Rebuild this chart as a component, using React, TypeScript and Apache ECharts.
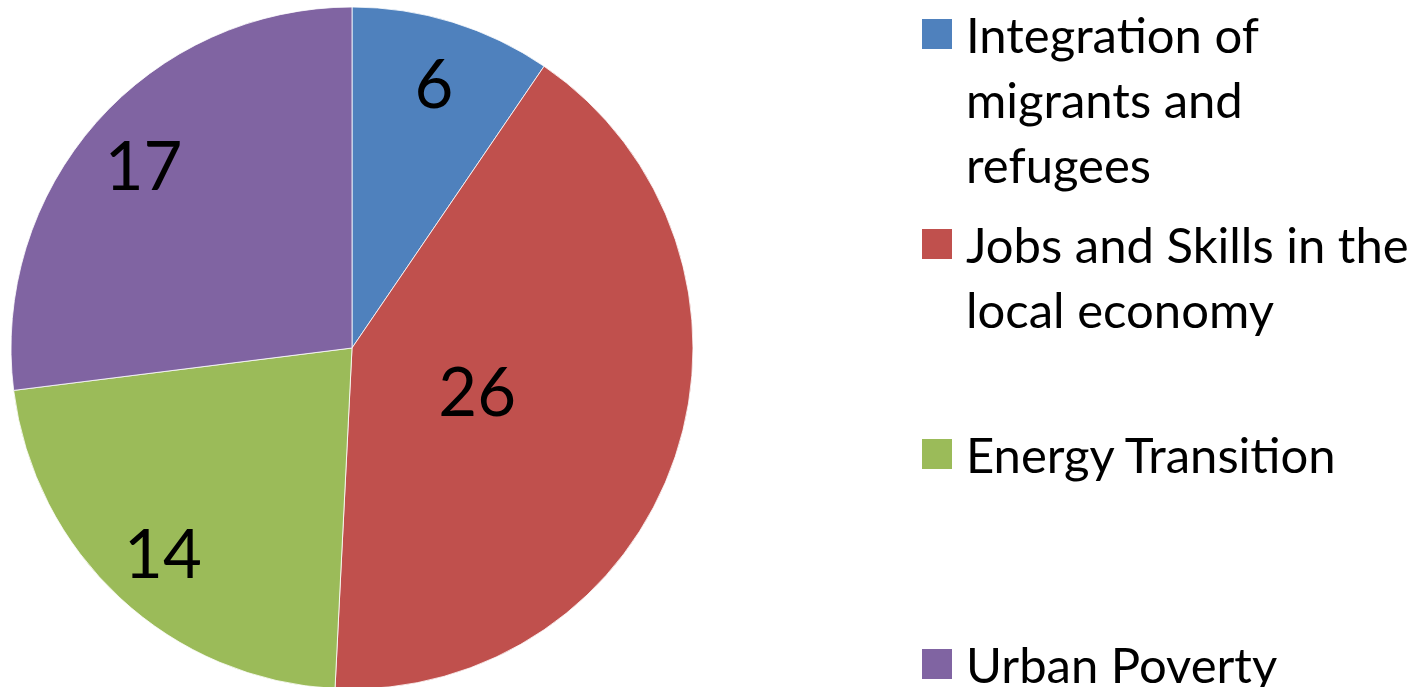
import React, { useEffect, useRef } from "react";
import * as echarts from "echarts";

const categories = [
  "Integration of migrants and refugees",
  "Jobs and Skills in the local economy",
  "Energy Transition",
  "Urban Poverty",
];
const values = [6, 26, 14, 17];
const colors = ["#4F81BD", "#C0504D", "#9BBB59", "#8064A2"];
const legendLines = [
  ["Integration of", "migrants and", "refugees"],
  ["Jobs and Skills in the", "local economy"],
  ["Energy Transition"],
  ["Urban Poverty"],
];
// which slices get their value label drawn on the outer ring vs. near the centre
const outerLabelIdx = [0, 2, 3];
const innerLabelIdx = [1];

const FONT = "Lato, 'Open Sans', sans-serif";
const LINE_H = 65;
const ICON = 30;
const legendIconTops = [19, 229, 439, 649];

export default function App() {
  const ref = useRef<HTMLDivElement>(null);
  useEffect(() => {
    if (!ref.current) return;
    const chart = echarts.init(ref.current, undefined, { renderer: "svg" });
    const cx = 352;
    const cy = 348;
    const R = 341;

    const overlay = (idx: number[], radius: [number, number]) => ({
      type: "pie",
      center: [cx, cy],
      radius,
      startAngle: 90,
      clockwise: true,
      silent: true,
      animation: false,
      emphasis: { disabled: true },
      labelLine: { show: false },
      itemStyle: { color: "rgba(0,0,0,0)", borderWidth: 0 },
      data: values.map((v, i) => ({
        name: categories[i],
        value: v,
        label: {
          show: idx.includes(i),
          position: "inside",
          formatter: "{c}",
          color: "#000",
          fontSize: 67,
          fontFamily: FONT,
        },
      })),
    });

    const legends = categories.map((name, i) => {
      const n = legendLines[i].length;
      const half = ((2 * n - 1) * LINE_H) / 2;
      return {
        orient: "vertical",
        left: 922,
        top: legendIconTops[i] - (half - ICON / 2),
        padding: 0,
        itemWidth: ICON,
        itemHeight: ICON,
        icon: "rect",
        selectedMode: false,
        itemStyle: { borderWidth: 0 },
        formatter: (nm: string) => {
          const lines = legendLines[categories.indexOf(nm)];
          // blank lines above keep the first line level with the colour key
          return "\n".repeat(lines.length - 1) + lines.join("\n");
        },
        textStyle: {
          fontSize: 49,
          fontFamily: FONT,
          color: "#000",
          lineHeight: LINE_H,
          padding: [0, 0, 0, 9],
        },
        data: [{ name, icon: "rect", itemStyle: { color: colors[i], borderWidth: 0 } }],
      };
    });

    chart.setOption({
      animation: false,
      backgroundColor: "#fff",
      legend: legends,
      series: [
        {
          type: "pie",
          center: [cx, cy],
          radius: [0, R],
          startAngle: 90,
          clockwise: true,
          animation: false,
          label: { show: false },
          labelLine: { show: false },
          emphasis: { disabled: true },
          itemStyle: { borderColor: "#fff", borderWidth: 0.8 },
          data: values.map((v, i) => ({
            name: categories[i],
            value: v,
            itemStyle: { color: colors[i] },
          })),
        },
        overlay(outerLabelIdx, [209, R]),
        overlay(innerLabelIdx, [0, 258]),
      ],
    });
    return () => chart.dispose();
  }, []);
  return (
    <div
      ref={ref}
      style={{ position: "fixed", left: 0, top: 0, width: 1423, height: 687 }}
    />
  );
}
